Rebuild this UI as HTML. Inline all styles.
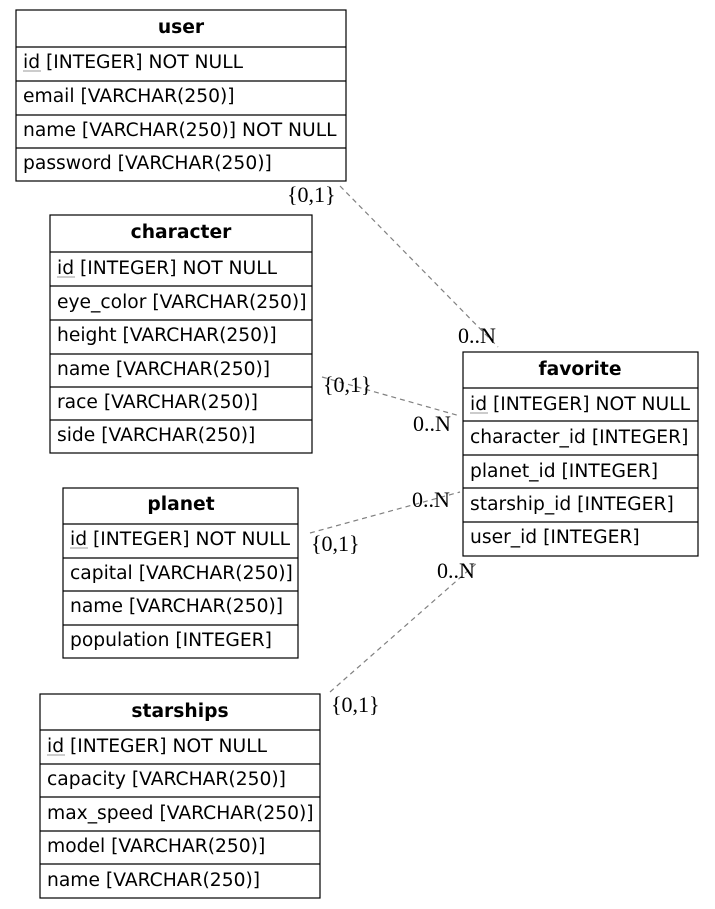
<!DOCTYPE html>
<html><head><meta charset="utf-8"><style>
html,body{margin:0;padding:0;background:#fff;}
svg{display:block}
.t{font-family:"DejaVu Sans","Liberation Sans",sans-serif;font-size:18.7px;fill:#000}
.h{font-weight:bold;text-anchor:middle;font-size:18.7px}
.l{font-family:"Liberation Serif","DejaVu Serif",serif;font-size:22px;fill:#000}
rect,line.r{stroke:#000;stroke-width:1.2;fill:none}
.e{stroke:#808080;stroke-width:1.2;stroke-dasharray:5,4;fill:none}
.u{stroke:#999;stroke-width:1}
</style></head><body>
<svg width="715" height="909" viewBox="0 0 715 909">
<!-- edges -->
<line class="e" x1="340" y1="186" x2="498" y2="347"/>
<line class="e" x1="322" y1="377" x2="460" y2="416"/>
<line class="e" x1="310" y1="533" x2="460" y2="492"/>
<line class="e" x1="330" y1="692" x2="478" y2="562"/>
<text class="l" x="287" y="202">{0,1}</text>
<text class="l" x="458" y="343">0..N</text>
<text class="l" x="323" y="392">{0,1}</text>
<text class="l" x="413" y="431">0..N</text>
<text class="l" x="311" y="551">{0,1}</text>
<text class="l" x="412" y="507">0..N</text>
<text class="l" x="331" y="712">{0,1}</text>
<text class="l" x="437" y="578">0..N</text>

<!-- user -->
<rect x="16" y="10" width="330" height="171"/>
<line class="r" x1="16" y1="47" x2="346" y2="47"/>
<line class="r" x1="16" y1="81" x2="346" y2="81"/>
<line class="r" x1="16" y1="115" x2="346" y2="115"/>
<line class="r" x1="16" y1="148" x2="346" y2="148"/>
<text class="t h" x="181" y="33">user</text>
<text class="t" x="23" y="68">id [INTEGER] NOT NULL</text><line class="u" x1="23" y1="71" x2="41" y2="71"/>
<text class="t" x="23" y="102">email [VARCHAR(250)]</text>
<text class="t" x="23" y="136">name [VARCHAR(250)] NOT NULL</text>
<text class="t" x="23" y="169">password [VARCHAR(250)]</text>

<!-- character -->
<rect x="50" y="215" width="262" height="238"/>
<line class="r" x1="50" y1="252" x2="312" y2="252"/>
<line class="r" x1="50" y1="286" x2="312" y2="286"/>
<line class="r" x1="50" y1="320" x2="312" y2="320"/>
<line class="r" x1="50" y1="354" x2="312" y2="354"/>
<line class="r" x1="50" y1="387" x2="312" y2="387"/>
<line class="r" x1="50" y1="420" x2="312" y2="420"/>
<text class="t h" x="181" y="238">character</text>
<text class="t" x="57" y="274">id [INTEGER] NOT NULL</text><line class="u" x1="57" y1="277" x2="75" y2="277"/>
<text class="t" x="57" y="308">eye_color [VARCHAR(250)]</text>
<text class="t" x="57" y="341">height [VARCHAR(250)]</text>
<text class="t" x="57" y="375">name [VARCHAR(250)]</text>
<text class="t" x="57" y="408">race [VARCHAR(250)]</text>
<text class="t" x="57" y="441">side [VARCHAR(250)]</text>

<!-- planet -->
<rect x="63" y="488" width="235" height="170"/>
<line class="r" x1="63" y1="524" x2="298" y2="524"/>
<line class="r" x1="63" y1="558" x2="298" y2="558"/>
<line class="r" x1="63" y1="591" x2="298" y2="591"/>
<line class="r" x1="63" y1="625" x2="298" y2="625"/>
<text class="t h" x="181" y="510">planet</text>
<text class="t" x="70" y="545">id [INTEGER] NOT NULL</text><line class="u" x1="70" y1="548" x2="88" y2="548"/>
<text class="t" x="70" y="579">capital [VARCHAR(250)]</text>
<text class="t" x="70" y="612">name [VARCHAR(250)]</text>
<text class="t" x="70" y="646">population [INTEGER]</text>

<!-- starships -->
<rect x="40" y="694" width="280" height="204"/>
<line class="r" x1="40" y1="730" x2="320" y2="730"/>
<line class="r" x1="40" y1="764" x2="320" y2="764"/>
<line class="r" x1="40" y1="797" x2="320" y2="797"/>
<line class="r" x1="40" y1="831" x2="320" y2="831"/>
<line class="r" x1="40" y1="864" x2="320" y2="864"/>
<text class="t h" x="180" y="717">starships</text>
<text class="t" x="47" y="752">id [INTEGER] NOT NULL</text><line class="u" x1="47" y1="755" x2="65" y2="755"/>
<text class="t" x="47" y="785">capacity [VARCHAR(250)]</text>
<text class="t" x="47" y="819">max_speed [VARCHAR(250)]</text>
<text class="t" x="47" y="852">model [VARCHAR(250)]</text>
<text class="t" x="47" y="886">name [VARCHAR(250)]</text>

<!-- favorite -->
<rect x="463" y="352" width="235" height="204"/>
<line class="r" x1="463" y1="388" x2="698" y2="388"/>
<line class="r" x1="463" y1="421" x2="698" y2="421"/>
<line class="r" x1="463" y1="455" x2="698" y2="455"/>
<line class="r" x1="463" y1="488" x2="698" y2="488"/>
<line class="r" x1="463" y1="522" x2="698" y2="522"/>
<text class="t h" x="580" y="375">favorite</text>
<text class="t" x="470" y="410">id [INTEGER] NOT NULL</text><line class="u" x1="470" y1="413" x2="488" y2="413"/>
<text class="t" x="470" y="443">character_id [INTEGER]</text>
<text class="t" x="470" y="477">planet_id [INTEGER]</text>
<text class="t" x="470" y="510">starship_id [INTEGER]</text>
<text class="t" x="470" y="543">user_id [INTEGER]</text>
</svg>
</body></html>
